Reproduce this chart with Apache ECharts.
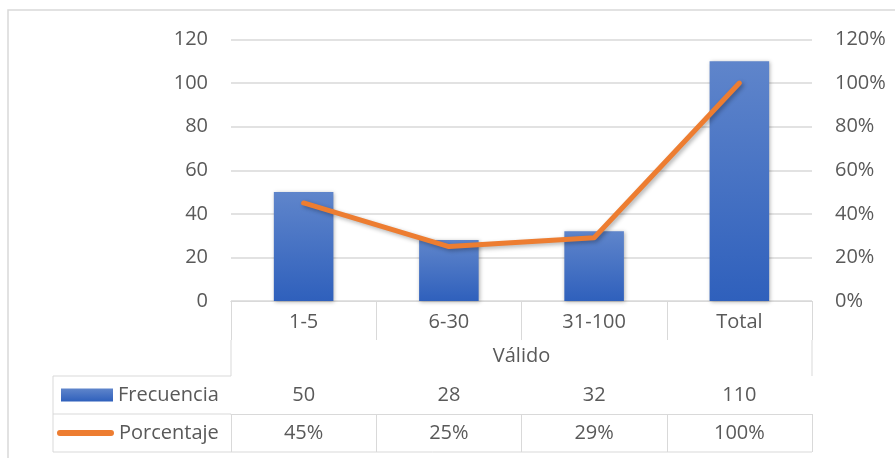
<!DOCTYPE html>
<html>
<head>
<meta charset="utf-8">
<script src="https://cdn.jsdelivr.net/npm/echarts@6/dist/echarts.min.js"></script>
<style>
html,body{margin:0;padding:0;background:#fff}
#chart{width:895px;height:458px}
</style>
</head>
<body>
<div id="chart"></div>
<script>
var categories = ['1-5', '6-30', '31-100', 'Total'];
var frecuencia = [50, 28, 32, 110];
var porcentaje = [45, 25, 29, 100];
var groupName = 'Válido';

var textColor = '#595959';
var lineColor = '#d9d9d9';
var font = 'Open Sans';
var fs = 20;

// plot box + data table rows (pixels)
var gridLeft = 231, gridRight = 83, gridTop = 39.5, gridBottom = 157;
var axisY = 458 - gridBottom;
var catRow = 39, rowFreq = 75, rowPct = 113, tableEnd = 151;
var legendLeft = 53;
var plotRight = 895 - gridRight;

var myChart = echarts.init(document.getElementById('chart'));

function tableAxis(data, offset) {
  return {
    type: 'category',
    data: data,
    position: 'bottom',
    offset: offset,
    axisLine: {show: true, lineStyle: {color: lineColor, width: 1}},
    axisTick: {show: true, length: rowPct - rowFreq, lineStyle: {color: lineColor, width: 1}},
    axisLabel: {color: textColor, fontSize: fs, fontFamily: font, margin: 9},
    splitLine: {show: false}
  };
}

function hline(x1, x2, y) {
  return {type: 'line', silent: true, shape: {x1: x1, y1: y, x2: x2, y2: y}, style: {stroke: lineColor, lineWidth: 1}};
}
function vline(x, y1, y2) {
  return {type: 'line', silent: true, shape: {x1: x, y1: y1, x2: x, y2: y2}, style: {stroke: lineColor, lineWidth: 1}};
}

myChart.setOption({
  animation: false,
  textStyle: {fontFamily: font},
  grid: {left: gridLeft, right: gridRight, top: gridTop, bottom: gridBottom},
  legend: [{
    data: ['Frecuencia'],
    left: 61, top: axisY + (rowFreq + rowPct) / 2 - 10,
    padding: 0,
    icon: 'rect',
    itemWidth: 52, itemHeight: 13, itemGap: 5,
    textStyle: {color: textColor, fontSize: fs, fontFamily: font, lineHeight: 20}
  }, {
    data: [{name: 'Porcentaje', icon: 'path://M3,0 H55 A3,3 0 0 1 55,6 H3 A3,3 0 0 1 3,0 Z', itemStyle: {color: '#ed7d31'}}],
    left: 57, top: axisY + (rowPct + tableEnd) / 2 - 10,
    padding: 0,
    itemWidth: 57, itemHeight: 6,
    textStyle: {color: textColor, fontSize: fs, fontFamily: font, lineHeight: 20}
  }],
  xAxis: [{
    type: 'category',
    data: categories,
    position: 'bottom',
    name: groupName,
    nameLocation: 'middle',
    nameGap: 45,
    nameTextStyle: {color: textColor, fontSize: fs, fontFamily: font},
    axisLine: {show: true, lineStyle: {color: lineColor, width: 1}},
    axisTick: {show: true, length: catRow, lineStyle: {color: lineColor, width: 1}},
    axisLabel: {color: textColor, fontSize: fs, fontFamily: font, margin: 11}
  },
  tableAxis(frecuencia.map(String), rowFreq),
  tableAxis(porcentaje.map(function (v) { return v + '%'; }), rowPct)
  ],
  yAxis: [{
    type: 'value',
    min: 0, max: 120, interval: 20,
    axisLine: {show: false},
    axisTick: {show: false},
    axisLabel: {color: textColor, fontSize: fs, fontFamily: font, margin: 23},
    splitLine: {lineStyle: {color: lineColor, width: 1.5}}
  }, {
    type: 'value',
    min: 0, max: 120, interval: 20,
    position: 'right',
    axisLine: {show: false},
    axisTick: {show: false},
    axisLabel: {color: textColor, fontSize: fs, fontFamily: font, margin: 23, formatter: '{value}%'},
    splitLine: {show: false}
  }],
  series: [{
    name: 'Frecuencia',
    type: 'bar',
    data: frecuencia,
    barWidth: '41%',
    itemStyle: {
      color: new echarts.graphic.LinearGradient(0, 0, 0, 1, [
        {offset: 0, color: '#5f85cb'},
        {offset: 1, color: '#2f60bc'}
      ]),
      shadowBlur: 4,
      shadowColor: 'rgba(0,0,0,0.3)',
      shadowOffsetX: 1,
      shadowOffsetY: 1
    }
  }, {
    name: 'Porcentaje',
    type: 'line',
    yAxisIndex: 1,
    data: porcentaje,
    symbol: 'none',
    lineStyle: {
      color: '#ed7d31',
      width: 5,
      cap: 'round',
      join: 'round',
      shadowBlur: 4,
      shadowColor: 'rgba(0,0,0,0.3)',
      shadowOffsetX: 2,
      shadowOffsetY: 2
    },
    itemStyle: {color: '#ed7d31'}
  }],
  graphic: [
    {type: 'rect', silent: true, z: -10, shape: {x: 8, y: 10, width: 900, height: 460}, style: {fill: null, stroke: lineColor, lineWidth: 1.5}},
    vline(gridLeft, axisY + catRow, axisY + rowFreq),
    vline(plotRight, axisY + catRow, axisY + rowFreq),
    vline(legendLeft, axisY + rowFreq, axisY + tableEnd),
    hline(legendLeft, gridLeft, axisY + rowFreq),
    hline(legendLeft, gridLeft, axisY + rowPct),
    hline(legendLeft, plotRight, axisY + tableEnd)
  ]
});
</script>
</body>
</html>
